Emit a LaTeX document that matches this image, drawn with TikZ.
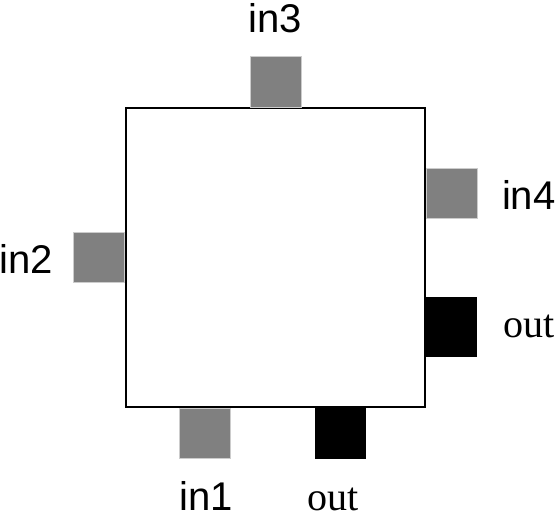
\documentclass[tikz,border=0pt]{standalone}
\usepackage{fontspec}
\setmainfont{Liberation Sans}
\newfontfamily\timesfont{Liberation Serif}
\begin{document}
\begin{tikzpicture}[x=0.02cm, y=-0.02cm,
  every node/.style={inner sep=0, outer sep=0},
  lbl/.style={font=\fontsize{22.8}{27}\selectfont},
  olbl/.style={font=\timesfont\fontsize{22.8}{27}\selectfont},
  inport/.style={fill={rgb,255:red,128;green,128;blue,128}, draw=black!20, line width=0.3pt, minimum width=1.02cm, minimum height=1.01cm},
  outport/.style={fill=black, minimum width=1.02cm, minimum height=1.02cm}]
\useasboundingbox (0,0) rectangle (557,517);
\node[draw, line width=0.04cm, minimum size=6.0cm] (blk) at (275.5,257.5) {};
\node[inport] (p3) at (275.5,82) {};
\node[inport] (p4) at (451.5,193.5) {};
\node[outport, minimum height=1.2cm] (o2) at (451.5,327) {};
\node[inport] (p2) at (99,257.5) {};
\node[inport] (p1) at (205,433.5) {};
\node[outport] (o1) at (340.5,433.5) {};
\node[lbl, anchor=base] (t3) at (275,33) {in3};
\node[lbl, anchor=base west] (t4) at (502,209) {in4};
\node[olbl, anchor=base west] (to2) at (503,337) {out};
\node[lbl, anchor=base east] (t2) at (53,273) {in2};
\node[lbl, anchor=base] (t1) at (206,510) {in1};
\node[olbl, anchor=base] (to1) at (333,510) {out};
\end{tikzpicture}
\end{document}
